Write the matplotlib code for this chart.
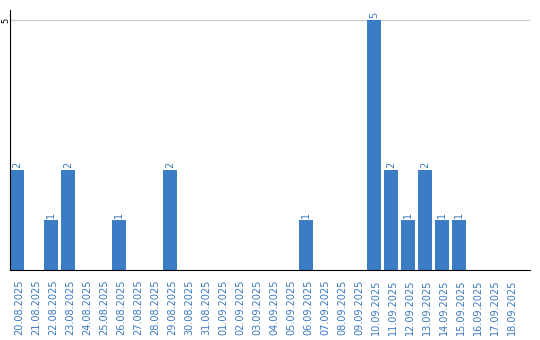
import matplotlib
matplotlib.use('Agg')
import matplotlib.pyplot as plt

dates = ['20.08.2025', '21.08.2025', '22.08.2025', '23.08.2025', '24.08.2025',
         '25.08.2025', '26.08.2025', '27.08.2025', '28.08.2025', '29.08.2025',
         '30.08.2025', '31.08.2025', '01.09.2025', '02.09.2025', '03.09.2025',
         '04.09.2025', '05.09.2025', '06.09.2025', '07.09.2025', '08.09.2025',
         '09.09.2025', '10.09.2025', '11.09.2025', '12.09.2025', '13.09.2025',
         '14.09.2025', '15.09.2025', '16.09.2025', '17.09.2025', '18.09.2025']
counts = [2, 0, 1, 2, 0, 0, 1, 0, 0, 2,
          0, 0, 0, 0, 0, 0, 0, 1, 0, 0,
          0, 5, 2, 1, 2, 1, 1, 0, 0, 0]

bar_color = '#3b7dc4'
text_color = '#3a78c0'

fig = plt.figure(figsize=(5.4, 3.4), dpi=100)
ax = fig.add_axes([10/540, 70/340, 520/540, 260/340])

x = list(range(len(dates)))
ax.bar(x, counts, width=14/17, align='edge', color=bar_color, zorder=2)

# value labels above non-empty bars
for i, v in enumerate(counts):
    if v > 0:
        ax.text(i + 7/17, v + 0.04, str(v), rotation=90, ha='center', va='bottom',
                fontsize=7, color=text_color)

ax.set_xlim(0, 520/17)
ax.set_ylim(0, 5.2)
ax.set_yticks([5])
ax.set_yticklabels(['5'], rotation=90, va='center', fontsize=6)
ax.yaxis.grid(True, color='#cccccc', linewidth=1, zorder=0)
ax.tick_params(axis='y', length=0, pad=0)

ax.set_xticks([i + 9/17 for i in x])
ax.set_xticklabels(dates, rotation=90, fontsize=7, color=text_color)
ax.tick_params(axis='x', length=0, pad=7)

for s in ['top', 'right']:
    ax.spines[s].set_visible(False)
ax.spines['left'].set_color('black')
ax.spines['bottom'].set_color('black')

fig.savefig('out.png', dpi=100)
